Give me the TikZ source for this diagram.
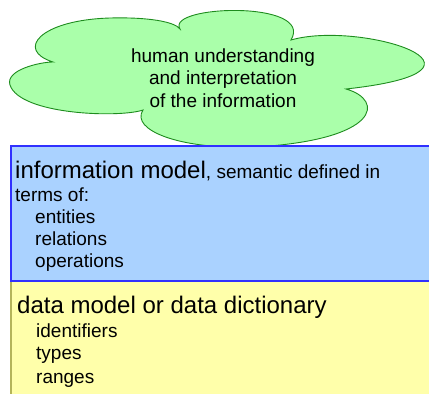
\documentclass[tikz,border=0pt]{standalone}
\usepackage{fontspec}
\setmainfont{Liberation Sans}
\definecolor{cloudfill}{HTML}{AAFFAA}
\definecolor{clouddraw}{HTML}{1E8C1E}
\definecolor{bluefill}{HTML}{AAD2FF}
\definecolor{bluedraw}{HTML}{3030FF}
\definecolor{yellowfill}{HTML}{FFFFAA}
\definecolor{yellowdraw}{HTML}{B4B45A}
\tikzset{
  small/.style={inner sep=0pt, anchor=base west, font=\fontsize{19}{22.5}\selectfont},
  big/.style={inner sep=0pt, anchor=base west, font=\fontsize{24}{28}\selectfont},
}
\begin{document}
\begin{tikzpicture}[x=1pt,y=-1pt]
\useasboundingbox (0,0) rectangle (429,394);
\begin{scope}
\clip (0,0) rectangle (429,394);
% cloud
\draw[fill=cloudfill, draw=clouddraw, line width=0.9pt]
  (180,29) .. controls (165,5) and (315,0) .. (291,40)
  .. controls (360,20) and (520,70) .. (346,89)
  .. controls (385,100) and (380,140) .. (255,147)
  .. controls (180,150) and (130,130) .. (143,110)
  .. controls (120,118) and (20,115) .. (10,85)
  .. controls (5,70) and (40,62) .. (53,62)
  .. controls (15,50) and (40,20) .. (110,18)
  .. controls (150,17) and (175,22) .. (180,29) -- cycle;
\node[inner sep=0pt, anchor=base, align=center, font=\fontsize{19}{22.5}\selectfont] (cloudtext) at (223,107)
  {human understanding\\and interpretation\\of the information};
% yellow box
\draw[fill=yellowfill, draw=yellowdraw, line width=1.2pt] (11,281) rectangle (445,410);
% blue box
\draw[fill=bluefill, draw=bluedraw, line width=1.2pt] (11,146) rectangle (445,281);
\end{scope}
\node[big] (im) at (15,178) {information model\fontsize{19}{22.5}\selectfont, semantic defined in};
\node[small] (terms) at (15,201) {terms of:};
\node[small] (ent) at (35,223) {entities};
\node[small] (rel) at (35,245) {relations};
\node[small] (ops) at (35,267) {operations};
\node[big] (dm) at (17,313) {data model or data dictionary};
\node[small] (ids) at (36,337) {identifiers};
\node[small] (types) at (36,359) {types};
\node[small] (ranges) at (36,383) {ranges};
\end{tikzpicture}
\end{document}
